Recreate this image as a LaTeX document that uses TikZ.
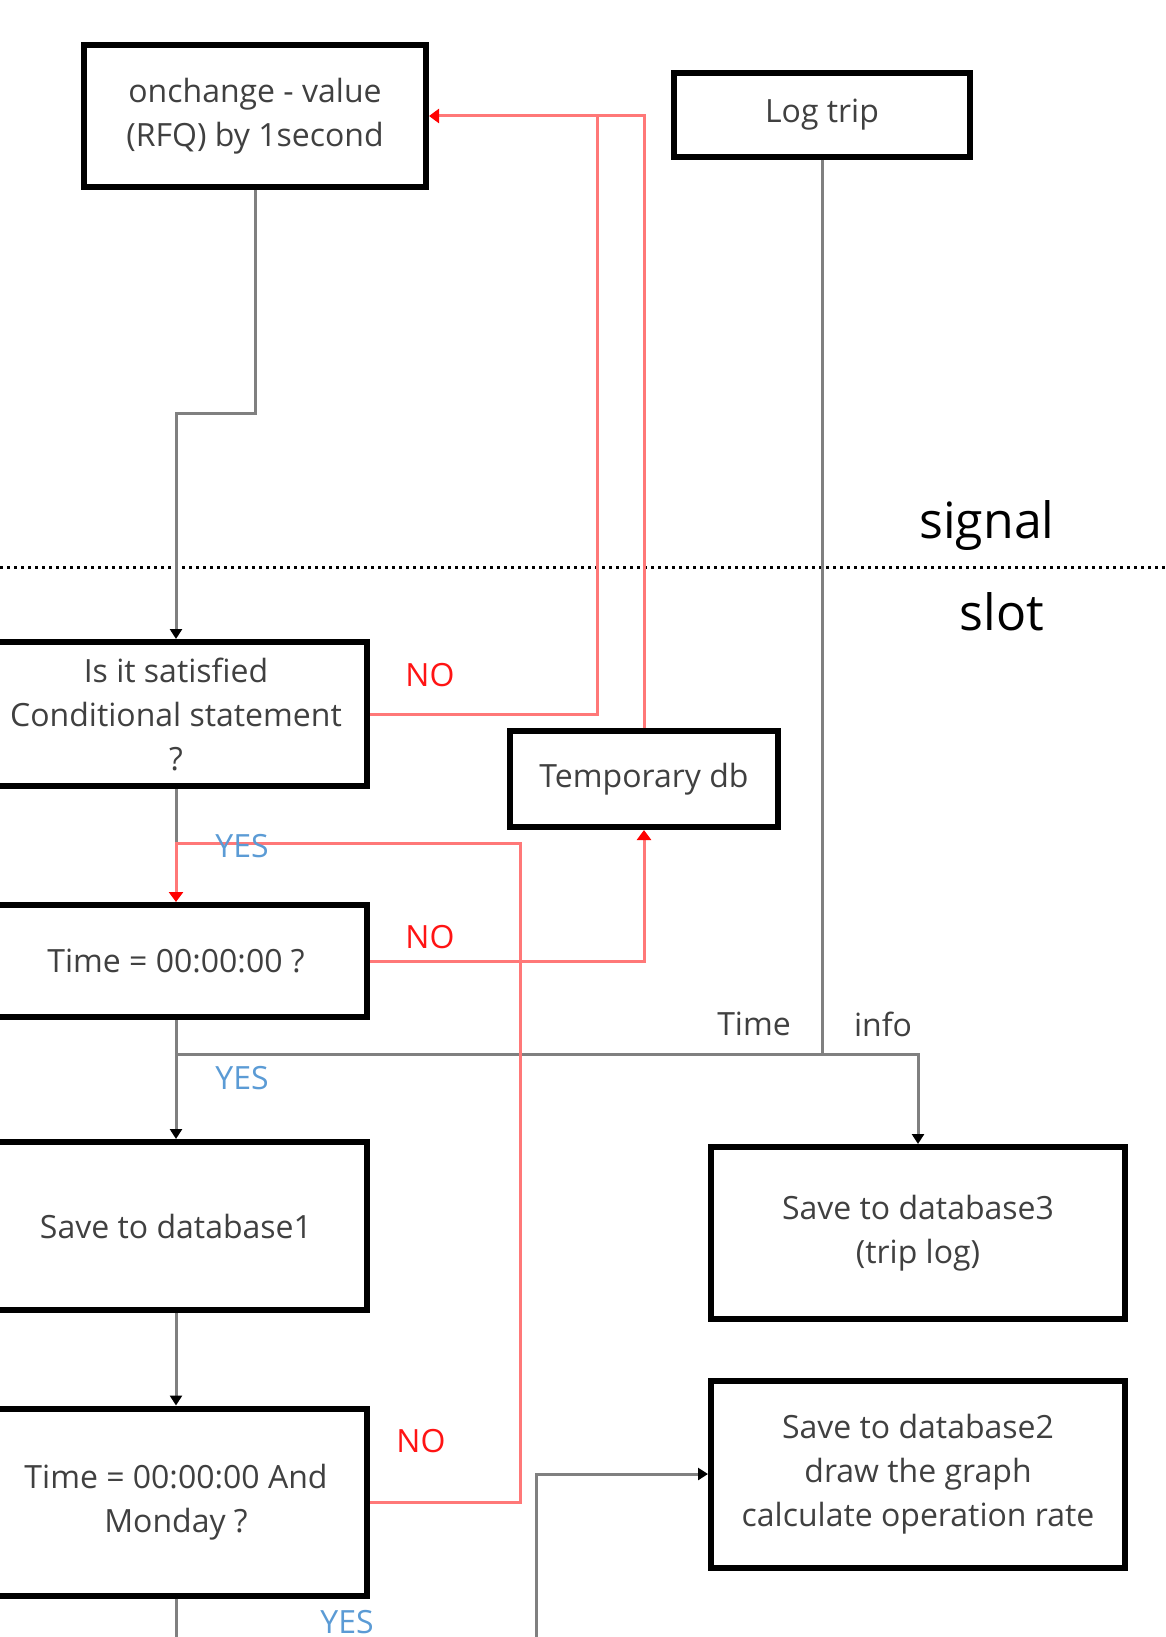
\documentclass[tikz,border=0pt]{standalone}
\usepackage{fontspec}
\setmainfont{Open Sans}
\usetikzlibrary{arrows.meta}
\definecolor{lred}{RGB}{255,120,120}
\definecolor{nored}{RGB}{255,20,20}
\definecolor{lgray}{RGB}{128,128,128}
\definecolor{yblue}{RGB}{91,155,213}
\definecolor{txt}{RGB}{64,64,64}
\begin{document}
\begin{tikzpicture}[x=1pt,y=-1pt,
  box/.style={draw=black, line width=6pt, fill=white, align=center, text=txt,
    font=\fontsize{32}{44}\selectfont, inner sep=0pt},
  gline/.style={draw=lgray, line width=3pt},
  rline/.style={draw=lred, line width=3pt},
  garrow/.style={gline, -{Triangle[length=10pt,width=12pt,color=black]}},
  rarrow/.style={rline, -{Triangle[length=10pt,width=14pt,color=red]}},
  lbl/.style={font=\fontsize{32}{38}\selectfont, inner sep=0pt},
  nolbl/.style={lbl, text=nored},
  yeslbl/.style={lbl, text=yblue},
  big/.style={font=\fontsize{50}{56}\selectfont, inner sep=0pt, text=black}
]
\useasboundingbox (0,0) rectangle (1166,1637);

% boxes
\node[box, minimum width=342pt, minimum height=142pt] (onchange) at (255,116) {onchange - value\\(RFQ) by 1second};
\node[box, minimum width=296pt, minimum height=84pt] (logtrip) at (822,115) {Log trip};
\node[box, minimum width=382pt, minimum height=144pt] (isit) at (176,714) {Is it satisfied\\Conditional statement\\?};
\node[box, minimum width=268pt, minimum height=96pt] (tempdb) at (644,779) {Temporary db};
\node[box, minimum width=382pt, minimum height=112pt] (time0) at (176,961) {Time = 00:00:00 ?};
\node[box, minimum width=382pt, minimum height=168pt] (db1) at (176,1226) {Save to database1};
\node[box, minimum width=382pt, minimum height=187pt] (monday) at (176,1502) {Time = 00:00:00 And\\Monday ?};
\node[box, minimum width=414pt, minimum height=172pt] (db3) at (918,1233) {Save to database3\\(trip log)};
\node[box, minimum width=414pt, minimum height=187pt] (db2) at (918,1474) {Save to database2\\draw the graph\\calculate operation rate};

% helper coordinates
\coordinate (j2) at (176,413);
\coordinate (r1) at (597,116);
\coordinate (r2) at (644,116);
\coordinate (r3) at (520,843);
\coordinate (g1) at (176,843);
\coordinate (t1) at (176,1054);
\coordinate (t2) at (822,1054);
\coordinate (bl) at (176,1637);
\coordinate (b2) at (536,1637);
\coordinate (d1) at (0,567);
\coordinate (d2) at (1166,567);

% separator
\draw[black, line width=3pt, dash pattern=on 3pt off 4pt] (d1) -- (d2);

% gray connectors
\draw[garrow] (onchange.south) |- (j2) -- (isit.north);
\draw[gline] (isit.south) -- (g1);
\draw[garrow] (time0.south) -- (db1.north);
\draw[gline] (logtrip.south) -- (t2);
\draw[garrow] (t1) -| (db3.north);
\draw[garrow] (db1.south) -- (monday.north);
\draw[gline] (monday.south) -- (bl);
\draw[garrow] (b2) |- (db2.west);

% red connectors
\draw[rline] (tempdb.north) -- (r2) -- (r1);
\draw[rarrow] (isit.east) -| (r1) -- (onchange.east);
\draw[rarrow] (time0.east) -| (tempdb.south);
\draw[rarrow] (monday.east) -| (r3) -| (time0.north);

% labels
\node[nolbl] (no1) at (430,675) {NO};
\node[nolbl] (no2) at (430,937) {NO};
\node[nolbl] (no3) at (421,1441) {NO};
\node[yeslbl] (yes1) at (242,846) {YES};
\node[yeslbl] (yes2) at (242,1078) {YES};
\node[yeslbl] (yes3) at (347,1622) {YES};
\node[lbl, text=txt] (timel) at (754,1024) {Time};
\node[lbl, text=txt] (infol) at (883,1024) {info};
\node[big] (signal) at (987,526) {signal};
\node[big] (slot) at (1002,612) {slot};
\end{tikzpicture}
\end{document}
